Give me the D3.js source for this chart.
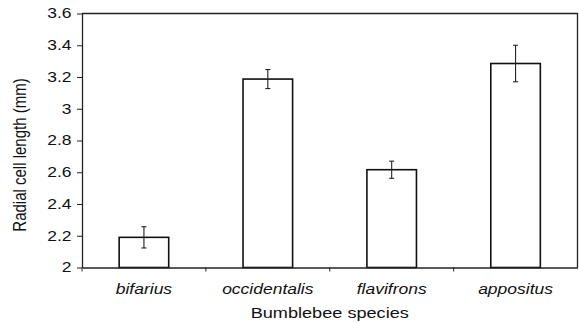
<!DOCTYPE html>
<html>
<head>
<meta charset="utf-8">
<script src="https://cdn.jsdelivr.net/npm/d3@7"></script>
<style>
  body { margin: 0; background: #fff; }
  text { font-family: "Liberation Sans", Arial, sans-serif; fill: #111; }
</style>
</head>
<body>
<svg></svg>
<script>
var species = ['bifarius', 'occidentalis', 'flavifrons', 'appositus'];
var means = [2.19, 3.187, 2.616, 3.285];
var errors = [0.067, 0.06, 0.054, 0.115];
var yTicks = [2, 2.2, 2.4, 2.6, 2.8, 3, 3.2, 3.4, 3.6];

var width = 579, height = 323;
// the original picture is stretched sideways, so text is widened too
var stretch = 1.25;
var svg = d3.select('svg')
    .attr('width', width)
    .attr('height', height);

var margin = {top: 13.5, right: 1.5, bottom: 55.5, left: 82};

var x = d3.scaleBand()
    .domain(species)
    .range([margin.left, width - margin.right])
    .paddingInner(0.6)
    .paddingOuter(0.3);

var y = d3.scaleLinear()
    .domain([2, 3.6])
    .range([height - margin.bottom, margin.top]);

// frame (top and right)
svg.append('path')
    .attr('d', 'M' + margin.left + ',' + margin.top + 'H' + (width - margin.right) + 'V' + (height - margin.bottom))
    .attr('fill', 'none')
    .attr('stroke', '#222')
    .attr('stroke-width', 1.3);

// bars
svg.append('g')
    .selectAll('rect')
    .data(species)
    .enter()
    .append('rect')
        .attr('x', (d) => x(d))
        .attr('y', (d, i) => y(means[i]))
        .attr('width', x.bandwidth())
        .attr('height', (d, i) => y(2) - y(means[i]))
        .attr('fill', '#fff')
        .attr('stroke', '#111')
        .attr('stroke-width', 1.6);

// error bars
var err = svg.append('g')
    .attr('stroke', '#222')
    .attr('stroke-width', 1.1);
species.forEach((d, i) => {
    var cx = x(d) + x.bandwidth() / 2;
    var lo = y(means[i] - errors[i]), hi = y(means[i] + errors[i]);
    err.append('line').attr('x1', cx).attr('x2', cx).attr('y1', lo).attr('y2', hi);
    err.append('line').attr('x1', cx - 2.5).attr('x2', cx + 2.5).attr('y1', lo).attr('y2', lo);
    err.append('line').attr('x1', cx - 2.5).attr('x2', cx + 2.5).attr('y1', hi).attr('y2', hi);
});

// y axis
var yAxis = svg.append('g')
    .attr('transform', 'translate(' + margin.left + ',0)')
    .call(d3.axisLeft(y).tickValues(yTicks).tickFormat(d3.format('~g')).tickSize(5).tickSizeOuter(0).tickPadding(5));
yAxis.selectAll('text')
    .style('font-size', '14px')
    .attr('x', -10.5 / stretch)
    .attr('transform', 'scale(' + stretch + ',1)');

// x axis with boundary ticks
var xAxis = svg.append('g')
    .attr('transform', 'translate(0,' + (height - margin.bottom) + ')')
    .call(d3.axisBottom(x).tickSize(0).tickSizeOuter(0).tickPadding(17));
xAxis.selectAll('text')
    .style('font-size', '14px')
    .style('font-style', 'italic')
    .attr('transform', 'scale(' + stretch + ',1)');
xAxis.selectAll('.sep')
    .data(species)
    .enter()
    .append('line')
        .attr('x1', (d) => x(d) - x.step() * x.paddingInner() / 2)
        .attr('x2', (d) => x(d) - x.step() * x.paddingInner() / 2)
        .attr('y1', 0)
        .attr('y2', 4)
        .attr('stroke', '#222');
svg.selectAll('.domain').attr('stroke', '#222').attr('stroke-width', 1.3);
svg.selectAll('.tick line').attr('stroke', '#222');

// axis titles
svg.append('text')
    .attr('transform', 'translate(' + ((margin.left + width - margin.right) / 2) + ',318) scale(' + stretch + ',1)')
    .attr('text-anchor', 'middle')
    .style('font-size', '14.5px')
    .text('Bumblebee species');

svg.append('text')
    .attr('transform', 'translate(26,155) rotate(-90) scale(1,' + stretch + ')')
    .attr('text-anchor', 'middle')
    .style('font-size', '15px')
    .text('Radial cell length (mm)');
</script>
</body>
</html>
